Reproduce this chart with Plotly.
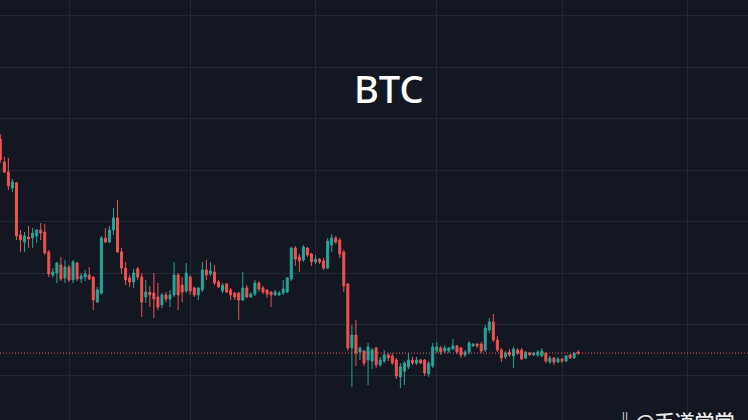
import pandas as pd
import plotly.graph_objects as go

start_date = "2022-08-15"
opens = [25200,24310,23920,23300,23500,21480,21200,21400,21360,21440,21670,21590,20820,19920,20000,20310,19810,20230,19730,20390,
         19770,19840,19920,19840,18870,19220,21360,21200,21670,22140,20820,20190,19810,19650,20160,19840,19070,19260,19220,19070,
         18760,19150,18990,19150,19920,19530,19300,19840,19420,19150,19340,20120,19960,20040,19650,19300,19570,19340,19220,19220,
         18950,19420,19070,19180,19610,19420,19340,19260,19150,19150,19220,19260,19770,20970,20620,20510,20970,20740,20430,20540,
         20470,20190,21090,21360,21280,20820,19570,17090,17590,16930,16970,16620,16580,17090,16430,16580,16820,16780,16620,15960,
         16190,16350,16620,16500,16620,16620,16080,16390,16970,17090,16970,16970,17050,17170,17090,16820,16930,17170,17240,17240,
         17010,17790,18100,17400,17010,16740,16930,16780,17010,17010,16700,16890,16820,16820,16780,16890,16540,16700,16540,16660,
         16580,16820,16700,16930]
highs = [25400,24510,24470,23650,23530,21670,21590,21830,21750,21710,21940,21900,20890,20190,20430,20620,20510,20310,20510,20430,
         20000,20120,20230,19880,19460,21440,21750,21830,22520,22840,20970,20430,19920,20160,20230,20000,19730,19500,20000,19610,
         19220,19260,19340,20430,20000,19840,20390,19920,19460,19460,20430,20510,20430,20310,19730,19610,19610,19420,19260,19260,
         20040,19530,19260,19730,19690,19500,19380,19300,19340,19300,19730,19840,21010,21050,20740,21090,21010,20780,20700,20580,
         20580,21360,21510,21440,21360,20890,19610,17980,18180,17130,17010,17280,17090,17130,16740,17010,16890,16890,16700,16500,
         16580,16890,16740,16740,16660,16660,16580,17280,17320,17170,17200,17130,17440,17200,17130,17010,17360,17280,17280,17320,
         17980,18250,18410,17550,17090,16970,17050,17130,17090,17090,16970,16930,16930,17010,17090,16930,16780,16740,16740,16700,
         16820,16850,16930,17010]
lows = [24270,23880,23220,23150,21280,20820,20820,20970,20970,21170,21280,20700,19840,19810,19610,19690,19610,19650,19610,19690,
        19610,19690,19730,18560,18840,19150,21170,21170,21480,20780,19960,19530,19460,19420,19730,18290,18840,18680,18250,18560,
        18640,18870,18680,19070,18560,18870,19220,19150,19070,18950,19260,19730,19880,19530,19420,19220,19220,18950,18950,18180,
        18910,19030,19030,19110,19260,19180,19030,18680,19110,19110,19150,19220,19690,20270,20040,20430,20620,20270,20350,20350,
        20120,20160,20820,21130,20580,19260,16970,15570,16390,16620,16390,15650,16270,16310,16350,16500,16580,16430,15880,15530,
        15650,16270,16430,16430,16470,16000,15960,16310,16890,16820,16890,16890,17010,16850,16700,16740,16850,17130,17090,16890,
        16930,17670,17320,16930,16540,16660,16740,16310,16820,16620,16660,16780,16780,16740,16740,16500,16470,16430,16500,16500,
        16540,16660,16660,16820]
closes = [24390,23920,23380,23530,21440,21280,21440,21320,21550,21670,21550,20780,19960,20040,20390,19770,20230,19730,20430,19770,
          19880,19960,19770,18950,19340,21360,21200,21670,22140,20820,20190,19730,19650,20000,19840,18870,19260,19150,18990,18680,
          19150,18990,19150,19920,19150,19260,20000,19300,19150,19420,20120,19920,20080,19610,19460,19530,19260,19150,19070,18950,
          19420,19070,19180,19610,19380,19260,19180,19150,19260,19220,19380,19810,20970,20540,20470,21010,20700,20430,20540,20430,
          20190,21240,21360,21200,20740,19500,17090,17590,16890,17090,16500,17130,17010,16430,16620,16820,16700,16500,16000,16350,
          16500,16620,16500,16620,16500,16120,16500,17130,17130,16930,17090,17090,17170,16930,16820,16930,17280,17240,17170,16970,
          17860,18100,17400,17010,16700,16890,16820,17050,16890,16660,16930,16820,16890,16930,16970,16580,16700,16540,16660,16580,
          16780,16700,16890,16890]

dates = pd.date_range(start_date, periods=len(closes), freq="D")

UP = "#26a69a"
DOWN = "#ef5350"
BG = "#131722"
GRID = "#232836"

fig = go.Figure(go.Candlestick(
    x=dates, open=opens, high=highs, low=lows, close=closes,
    increasing=dict(line=dict(color=UP, width=1), fillcolor=UP),
    decreasing=dict(line=dict(color=DOWN, width=1), fillcolor=DOWN),
    whiskerwidth=0, hoverinfo="skip", showlegend=False,
))

fig.add_shape(type="line", xref="paper", x0=0, x1=1, yref="y", y0=closes[-1], y1=closes[-1],
              line=dict(color="#f0606a", width=1, dash="1px,2px"))

fig.add_annotation(text="BTC", xref="paper", yref="paper", x=389/748, y=1-88/420,
                   xanchor="center", yanchor="middle", showarrow=False,
                   font=dict(family="Noto Sans", size=38, color="#ffffff", weight=500))

fig.add_annotation(text="‖@币道学堂", xref="paper", yref="paper", x=613/748, y=(420-405)/420,
                   xanchor="left", yanchor="top", showarrow=False,
                   font=dict(family="Noto Sans CJK SC", size=20, color="#ececec", weight=500))

fig.update_layout(
    width=748, height=420,
    margin=dict(l=0, r=0, t=0, b=0),
    paper_bgcolor=BG, plot_bgcolor=BG,
    xaxis=dict(range=["2022-08-14 22:13", "2023-02-16 00:30"], rangeslider=dict(visible=False),
               showticklabels=False, showline=False, zeroline=False,
               showgrid=True, gridcolor=GRID, gridwidth=1, tick0="2022-09-01", dtick="M1", ticks=""),
    yaxis=dict(range=[14291, 30602], showticklabels=False, showline=False, zeroline=False,
               showgrid=True, gridcolor=GRID, gridwidth=1, tick0=0, dtick=2000, ticks=""),
)

fig.write_html("out.html", config={"displayModeBar": False},
               post_script="document.body.style.margin='0';document.body.style.background='#131722';document.body.style.overflow='hidden';")
